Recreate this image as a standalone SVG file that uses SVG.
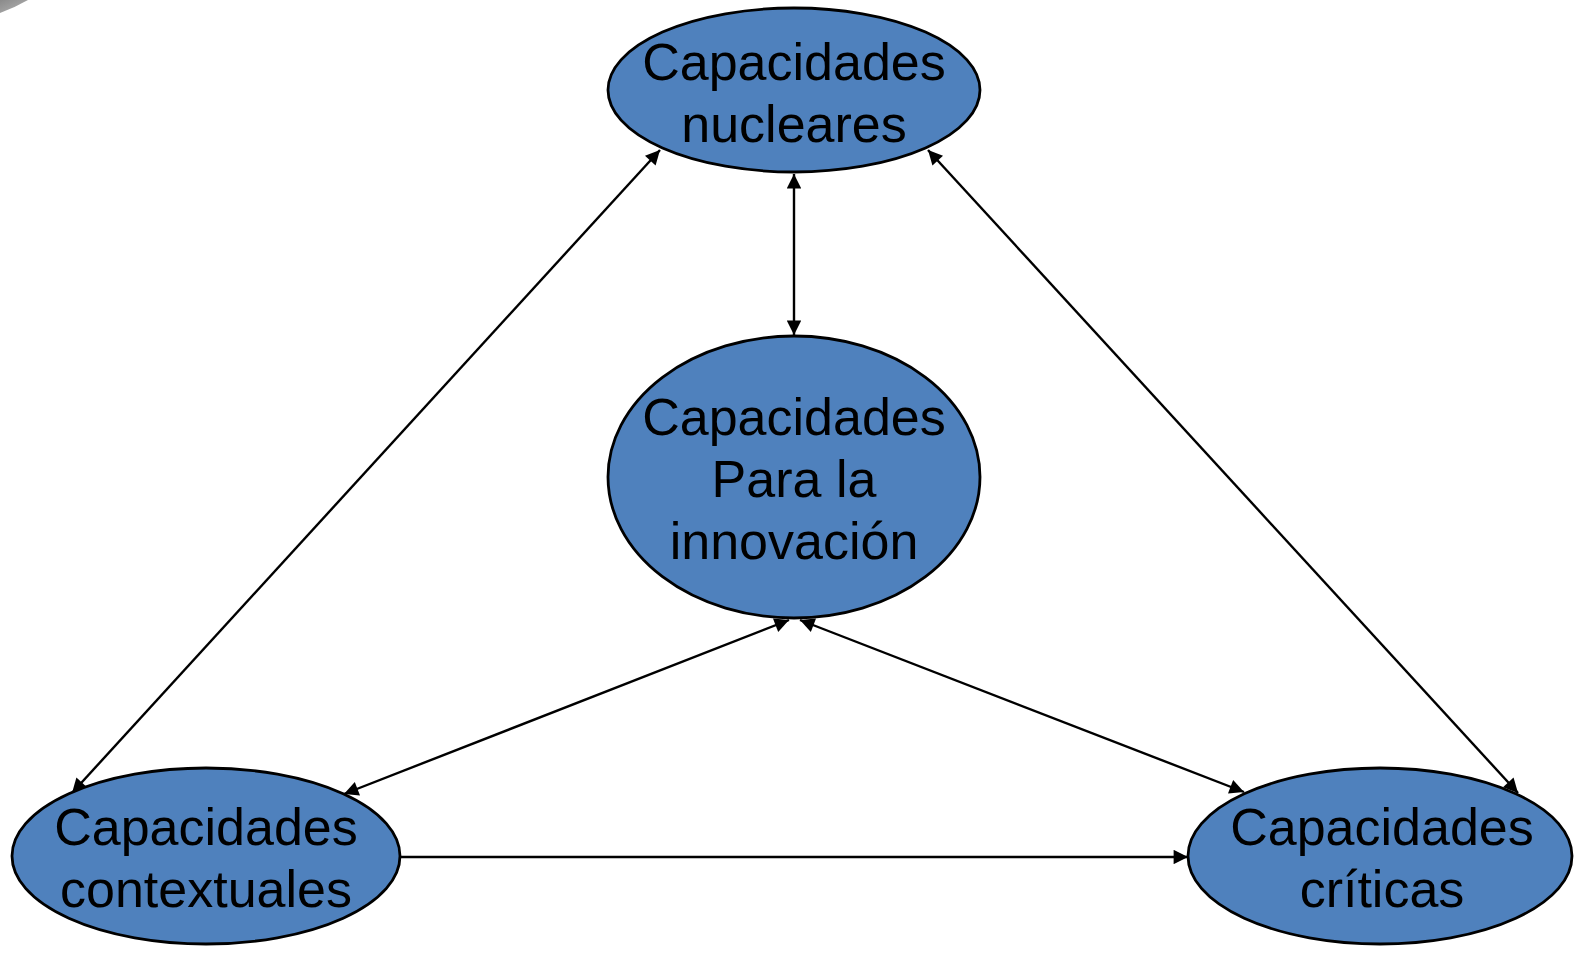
<svg xmlns="http://www.w3.org/2000/svg" width="1592" height="962" viewBox="0 0 1592 962">
<style>
.node{fill:#4F81BD;stroke:#000;stroke-width:2.8}
.lbl{font-family:"Liberation Sans",Arial,sans-serif;font-size:52px;fill:#000;text-anchor:middle}
.edge{stroke:#000;stroke-width:2.4;fill:none}
</style>
<defs>
<marker id="ah" viewBox="0 0 10 10" refX="10" refY="5" markerWidth="7" markerHeight="6" orient="auto-start-reverse" markerUnits="strokeWidth">
<path d="M0,0 L10,5 L0,10 z" fill="#000"/>
</marker>
<linearGradient id="gr" x1="0" y1="0" x2="1" y2="1">
<stop offset="0" stop-color="#8a8a8a"/>
<stop offset="1" stop-color="#b5b5b5"/>
</linearGradient>
</defs>
<rect width="1592" height="962" fill="#fff"/>
<path d="M0,0 L28,0 Q14,8 0,13 z" fill="url(#gr)"/>
<g id="connectors">
<line class="edge" x1="660" y1="150" x2="72" y2="793" marker-start="url(#ah)" marker-end="url(#ah)"/>
<line class="edge" x1="794" y1="174" x2="794" y2="335" marker-start="url(#ah)" marker-end="url(#ah)"/>
<line class="edge" x1="928" y1="150" x2="1518" y2="793" marker-start="url(#ah)" marker-end="url(#ah)"/>
<line class="edge" x1="789" y1="620" x2="344" y2="794" marker-start="url(#ah)" marker-end="url(#ah)"/>
<line class="edge" x1="800" y1="620" x2="1244" y2="792" marker-start="url(#ah)" marker-end="url(#ah)"/>
<line class="edge" x1="400" y1="857" x2="1188" y2="857" marker-end="url(#ah)"/>
</g>
<g id="node-nucleares">
<ellipse class="node" cx="794" cy="90" rx="186" ry="82"/>
<text class="lbl" x="794" y="80">Capacidades</text>
<text class="lbl" x="794" y="142">nucleares</text>
</g>
<g id="node-innovacion">
<ellipse class="node" cx="794" cy="477" rx="186" ry="141"/>
<text class="lbl" x="794" y="435">Capacidades</text>
<text class="lbl" x="794" y="497">Para la</text>
<text class="lbl" x="794" y="559">innovación</text>
</g>
<g id="node-contextuales">
<ellipse class="node" cx="206" cy="856" rx="194" ry="88"/>
<text class="lbl" x="206" y="845">Capacidades</text>
<text class="lbl" x="206" y="907">contextuales</text>
</g>
<g id="node-criticas">
<ellipse class="node" cx="1380" cy="856" rx="192" ry="88"/>
<text class="lbl" x="1382" y="845">Capacidades</text>
<text class="lbl" x="1382" y="907">críticas</text>
</g>
</svg>
